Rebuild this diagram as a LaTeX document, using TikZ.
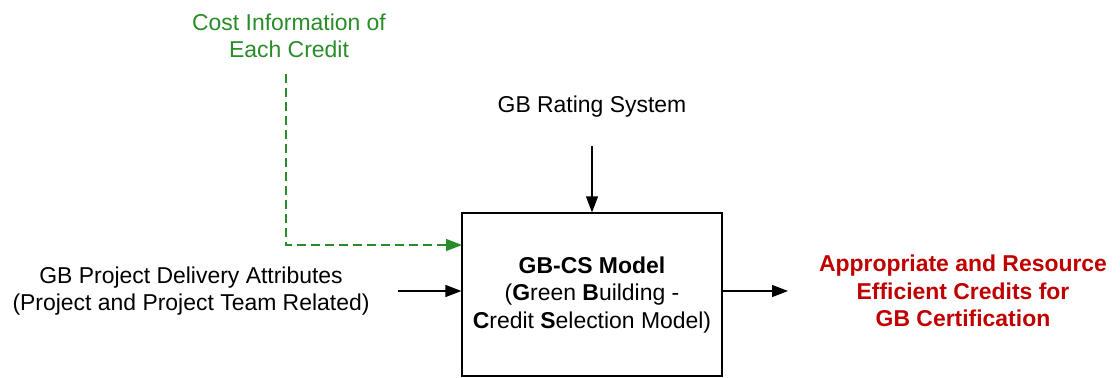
\documentclass[tikz,border=0pt]{standalone}
\usepackage{fontspec}
\setmainfont{Liberation Sans}
\usetikzlibrary{arrows.meta}
\definecolor{costgreen}{RGB}{40,140,40}
\definecolor{outred}{RGB}{192,0,0}
\begin{document}
\begin{tikzpicture}[x=0.75pt,y=-0.75pt,
  lbl/.style={align=center,inner sep=0pt,font=\fontsize{17.2}{20.6}\selectfont},
  flow/.style={line width=0.9pt,-{Triangle[length=12pt,width=9pt]}},
  costflow/.style={flow,costgreen,dash pattern=on 6.5pt off 4pt}]
\useasboundingbox (0,0) rectangle (1120,378);
% model box
\node[draw,line width=0.9pt,minimum width=260*0.75pt,minimum height=163*0.75pt,inner sep=0pt] (model) at (592,294.5) {};
\node[lbl] (modeltxt) at (592,295) {\textbf{GB-CS Model}\\(\textbf{G}reen \textbf{B}uilding -\\\textbf{C}redit \textbf{S}election Model)};
% inputs and output
\node[lbl,text=costgreen] (cost) at (289,36) {Cost Information of\\Each Credit};
\node[lbl] (rating) at (592,107) {GB Rating System};
\node[lbl] (attr) at (191,291) {GB Project Delivery Attributes\\(Project and Project Team Related)};
\node[lbl,text=outred,font=\fontsize{17.2}{20.6}\selectfont\bfseries] (credits) at (963,291) {Appropriate and Resource\\Efficient Credits for\\GB Certification};
% connector end points
\coordinate (costtop) at (286,74);
\coordinate (costcorner) at (286,245);
\coordinate (costin) at (462,245);
\coordinate (ratingfrom) at (592,146);
\coordinate (attrfrom) at (398,291);
\coordinate (outto) at (788,291);
% connectors
\draw[costflow] (costtop) -- (costcorner) -- (costin);
\draw[flow] (ratingfrom) -- (model.north);
\draw[flow] (attrfrom) -- (attrfrom -| model.west);
\draw[flow] (model.east |- outto) -- (outto);
\end{tikzpicture}
\end{document}
